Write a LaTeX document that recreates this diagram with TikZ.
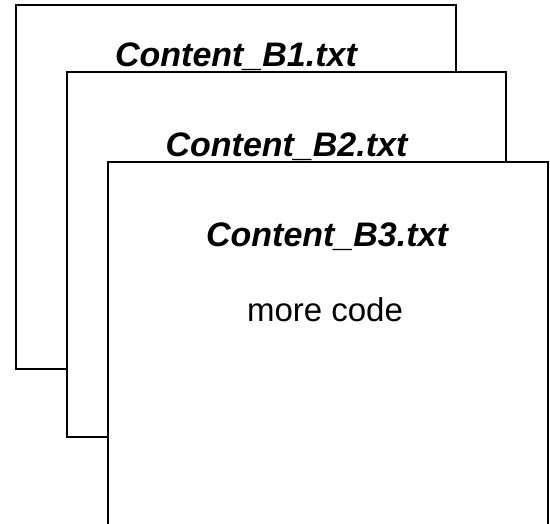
\documentclass[tikz,border=0pt]{standalone}
\usepackage{fontspec}
\setmainfont{Liberation Sans}
\begin{document}
\begin{tikzpicture}[x=1pt,y=-1pt,
  sheet/.style={draw=black,fill=white,line width=2pt},
  title/.style={anchor=base,inner sep=0pt,font=\fontsize{34}{38}\selectfont\bfseries\itshape},
  body/.style={anchor=base,inner sep=0pt,font=\fontsize{33}{36}\selectfont}]
\clip (0,0) rectangle (550,524);
\fill[white] (0,0) rectangle (550,524);
\draw[sheet] (16,5) rectangle (456,369);
\node[title] (t1) at (236,67) {Content\_B1.txt};
\draw[sheet] (67,72) rectangle (506,437);
\node[title] (t2) at (286.5,157) {Content\_B2.txt};
\draw[sheet] (108,162) rectangle (548,560);
\node[title] (t3) at (327,247) {Content\_B3.txt};
\node[body] (b3) at (325,322) {more code};
\end{tikzpicture}
\end{document}
